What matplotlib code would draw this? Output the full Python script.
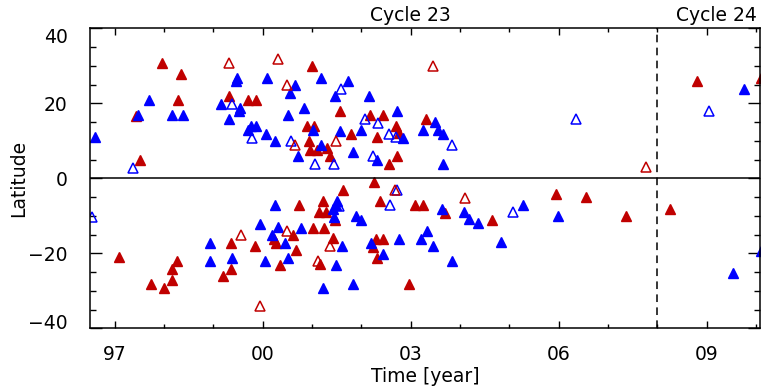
import numpy as np
import matplotlib
matplotlib.use('Agg')
import matplotlib.pyplot as plt
import matplotlib.transforms as mtransforms
from matplotlib.ticker import MultipleLocator, FixedLocator

# filled blue triangles (decimal year, latitude)
blue_filled_t = [1996.60, 1997.47, 1997.70, 1998.16, 1998.39, 1999.47, 1999.45, 1999.16,
                 1999.54, 1999.51, 1999.32, 1999.70, 1999.77, 1999.86, 2000.06, 2000.24,
                 2000.08, 2000.65, 2000.55, 2001.18, 2001.73, 2001.46, 2002.16, 2000.51,
                 2000.84, 2001.02, 2000.71, 2001.18, 2001.57, 2001.84, 2002.00, 2002.73,
                 2002.32, 2002.85, 2003.24, 2003.49, 2003.55, 2003.66, 2003.66, 2009.75,
                 2010.10, 2009.53, 2005.98, 2005.27, 2004.83, 2004.37, 2004.19, 2004.09,
                 2003.64, 2003.84, 2003.46, 2003.34, 2003.21, 2002.77, 2002.44, 2002.20,
                 2001.84, 2001.22, 2001.48, 2001.60, 2001.99, 2001.90, 2001.51, 2001.48,
                 2001.43, 2001.45, 2000.78, 2000.52, 2000.45, 2000.31, 2000.18, 2000.25,
                 2000.04, 1999.94, 1999.38, 1998.93, 1998.93]
blue_filled_lat = [11.0, 16.8, 20.8, 16.8, 16.8, 26.9, 25.9, 19.8,
                   18.9, 17.9, 15.9, 13.0, 13.9, 13.9, 11.8, 9.9,
                   26.9, 25.0, 22.9, 26.9, 26.0, 21.9, 21.9, 16.8,
                   18.9, 13.0, 5.9, 8.8, 12.7, 6.9, 13.0, 17.9,
                   4.8, 10.7, 13.0, 14.9, 13.0, 11.8, 3.8, 23.8,
                   -19.5, -25.3, -10.1, -7.0, -17.1, -12.0, -10.9, -9.0,
                   -8.1, -22.1, -18.1, -14.1, -16.1, -16.1, -20.1, -17.2,
                   -28.1, -29.2, -23.2, -18.1, -11.1, -10.1, -6.1, -7.2,
                   -8.3, -10.3, -13.2, -21.2, -17.2, -13.0, -15.2, -7.2,
                   -22.1, -12.3, -21.2, -17.2, -22.1]

# filled red triangles
red_filled_t = [1997.51, 1997.43, 1997.95, 1998.34, 1998.29, 1999.32, 1999.70, 1999.86,
                2001.00, 2001.56, 2000.89, 2001.04, 2000.94, 2000.95, 2001.11, 2001.31,
                2001.36, 2001.79, 2002.17, 2002.44, 2002.31, 2002.57, 2002.73, 2002.70,
                2002.77, 2003.32, 2008.81, 2010.10,
                1997.09, 1997.73, 1997.99, 1998.16, 1998.16, 1998.26, 1999.35, 1999.35,
                1999.20, 1999.84, 2000.22, 2000.27, 2000.36, 2000.74, 2000.62, 2000.67,
                2001.01, 2001.25, 2001.23, 2001.14, 2001.28, 2001.47, 2001.62, 2001.42,
                2001.16, 2002.26, 2002.38, 2002.29, 2002.44, 2002.24, 2002.31, 2002.97,
                2003.09, 2003.25, 2003.69, 2004.65, 2005.95, 2006.55, 2007.37, 2008.26]
red_filled_lat = [4.8, 16.7, 30.9, 27.8, 20.8, 22.0, 21.0, 21.0,
                  29.9, 17.9, 13.9, 13.9, 9.9, 7.6, 7.6, 8.1,
                  5.9, 11.8, 16.8, 16.8, 10.9, 3.8, 5.9, 13.9,
                  12.1, 15.9, 25.9, 26.9,
                  -21.0, -28.1, -29.2, -27.1, -24.3, -22.1, -17.2, -24.1,
                  -26.1, -18.1, -16.3, -17.2, -23.1, -7.2, -15.2, -19.1,
                  -13.2, -13.2, -6.1, -9.0, -9.0, -11.2, -3.1, -15.9,
                  -22.9, -1.0, -6.1, -16.1, -16.1, -18.3, -21.2, -28.1,
                  -7.2, -7.2, -9.3, -11.0, -4.1, -5.1, -10.1, -8.1]

# open blue triangles
blue_open_t = [1997.38, 1999.38, 1999.79, 2001.59, 2000.57, 2001.06, 2001.44, 2002.07,
               2002.34, 2002.23, 2002.57, 2002.70, 2003.83, 2006.35, 2009.04,
               1996.53, 2001.55, 2002.58, 2002.72, 2005.08]
blue_open_lat = [2.7, 19.8, 10.7, 23.8, 9.9, 3.8, 3.8, 15.9,
                 14.7, 5.9, 11.8, 10.9, 9.0, 15.9, 17.9,
                 -10.2, -7.4, -7.2, -3.1, -9.1]

# open red triangles
red_open_t = [1999.32, 2000.31, 2000.49, 2000.66, 2001.48, 2003.46, 2007.76,
              1999.57, 1999.95, 2000.50, 2001.37, 2001.12, 2002.69, 2004.11]
red_open_lat = [30.9, 31.8, 25.0, 8.8, 9.9, 29.9, 2.9,
                -15.2, -34.1, -14.1, -18.0, -22.1, -3.1, -5.2]

year_ticks = [1997, 2000, 2003, 2006, 2009]
year_labels = ['97', '00', '03', '06', '09']
lat_ticks = [-40, -20, 0, 20, 40]
cycle_start = 2008.0

RED = '#c00000'
BLUE = '#0000ff'

plt.rcParams['font.family'] = ['DejaVu Sans']
fig = plt.figure(figsize=(7.61, 3.89), dpi=100)
ax = fig.add_axes([0.1183, 0.156, 0.8810, 0.771])

ms = 7.5
ax.plot(red_filled_t, red_filled_lat, '^', ms=ms, color=RED, mec=RED, ls='none')
ax.plot(blue_filled_t, blue_filled_lat, '^', ms=ms, color=BLUE, mec=BLUE, ls='none')
ax.plot(blue_open_t, blue_open_lat, '^', ms=ms, mfc='none', mec=BLUE, mew=1.1, ls='none')
ax.plot(red_open_t, red_open_lat, '^', ms=ms, mfc='none', mec=RED, mew=1.1, ls='none')

ax.axhline(0, color='black', lw=1.1)
ax.axvline(cycle_start, color='black', lw=1.1, ls=(0, (5, 3.5)))

ax.set_xlim(1996.5, 2010.09)
ax.set_ylim(-40, 40)
ax.xaxis.set_major_locator(FixedLocator(year_ticks))
ax.set_xticklabels(year_labels)
ax.xaxis.set_minor_locator(MultipleLocator(1))
ax.yaxis.set_major_locator(FixedLocator(lat_ticks))
ax.yaxis.set_minor_locator(MultipleLocator(5))

ax.tick_params(which='both', direction='in', top=True, right=True, width=1.0,
               labelsize=13.5)
ax.tick_params(axis='x', which='major', length=5, pad=12)
ax.tick_params(axis='x', which='minor', length=3)
ax.tick_params(axis='y', which='major', length=8.5, pad=16)
ax.tick_params(axis='y', which='minor', length=4.5)
for s in ax.spines.values():
    s.set_linewidth(1.1)

# end labels are pulled a little inside the axis range, as in the original
fig.canvas.draw()
yticks = ax.yaxis.get_major_ticks()
for tk, dy in ((yticks[0], 5), (yticks[-1], -5)):
    lab = tk.label1
    lab.set_transform(lab.get_transform() +
                      mtransforms.ScaledTranslation(0, dy / 72, fig.dpi_scale_trans))

ax.set_xlabel('Time [year]', fontsize=13.5, labelpad=2)
ax.set_ylabel('Latitude', fontsize=13.5, labelpad=0)

ax.text(2003.0, 41.0, 'Cycle 23', ha='center', va='bottom', fontsize=13.5)
ax.text(2009.2, 41.0, 'Cycle 24', ha='center', va='bottom', fontsize=13.5)

fig.savefig('out.png', dpi=100)
